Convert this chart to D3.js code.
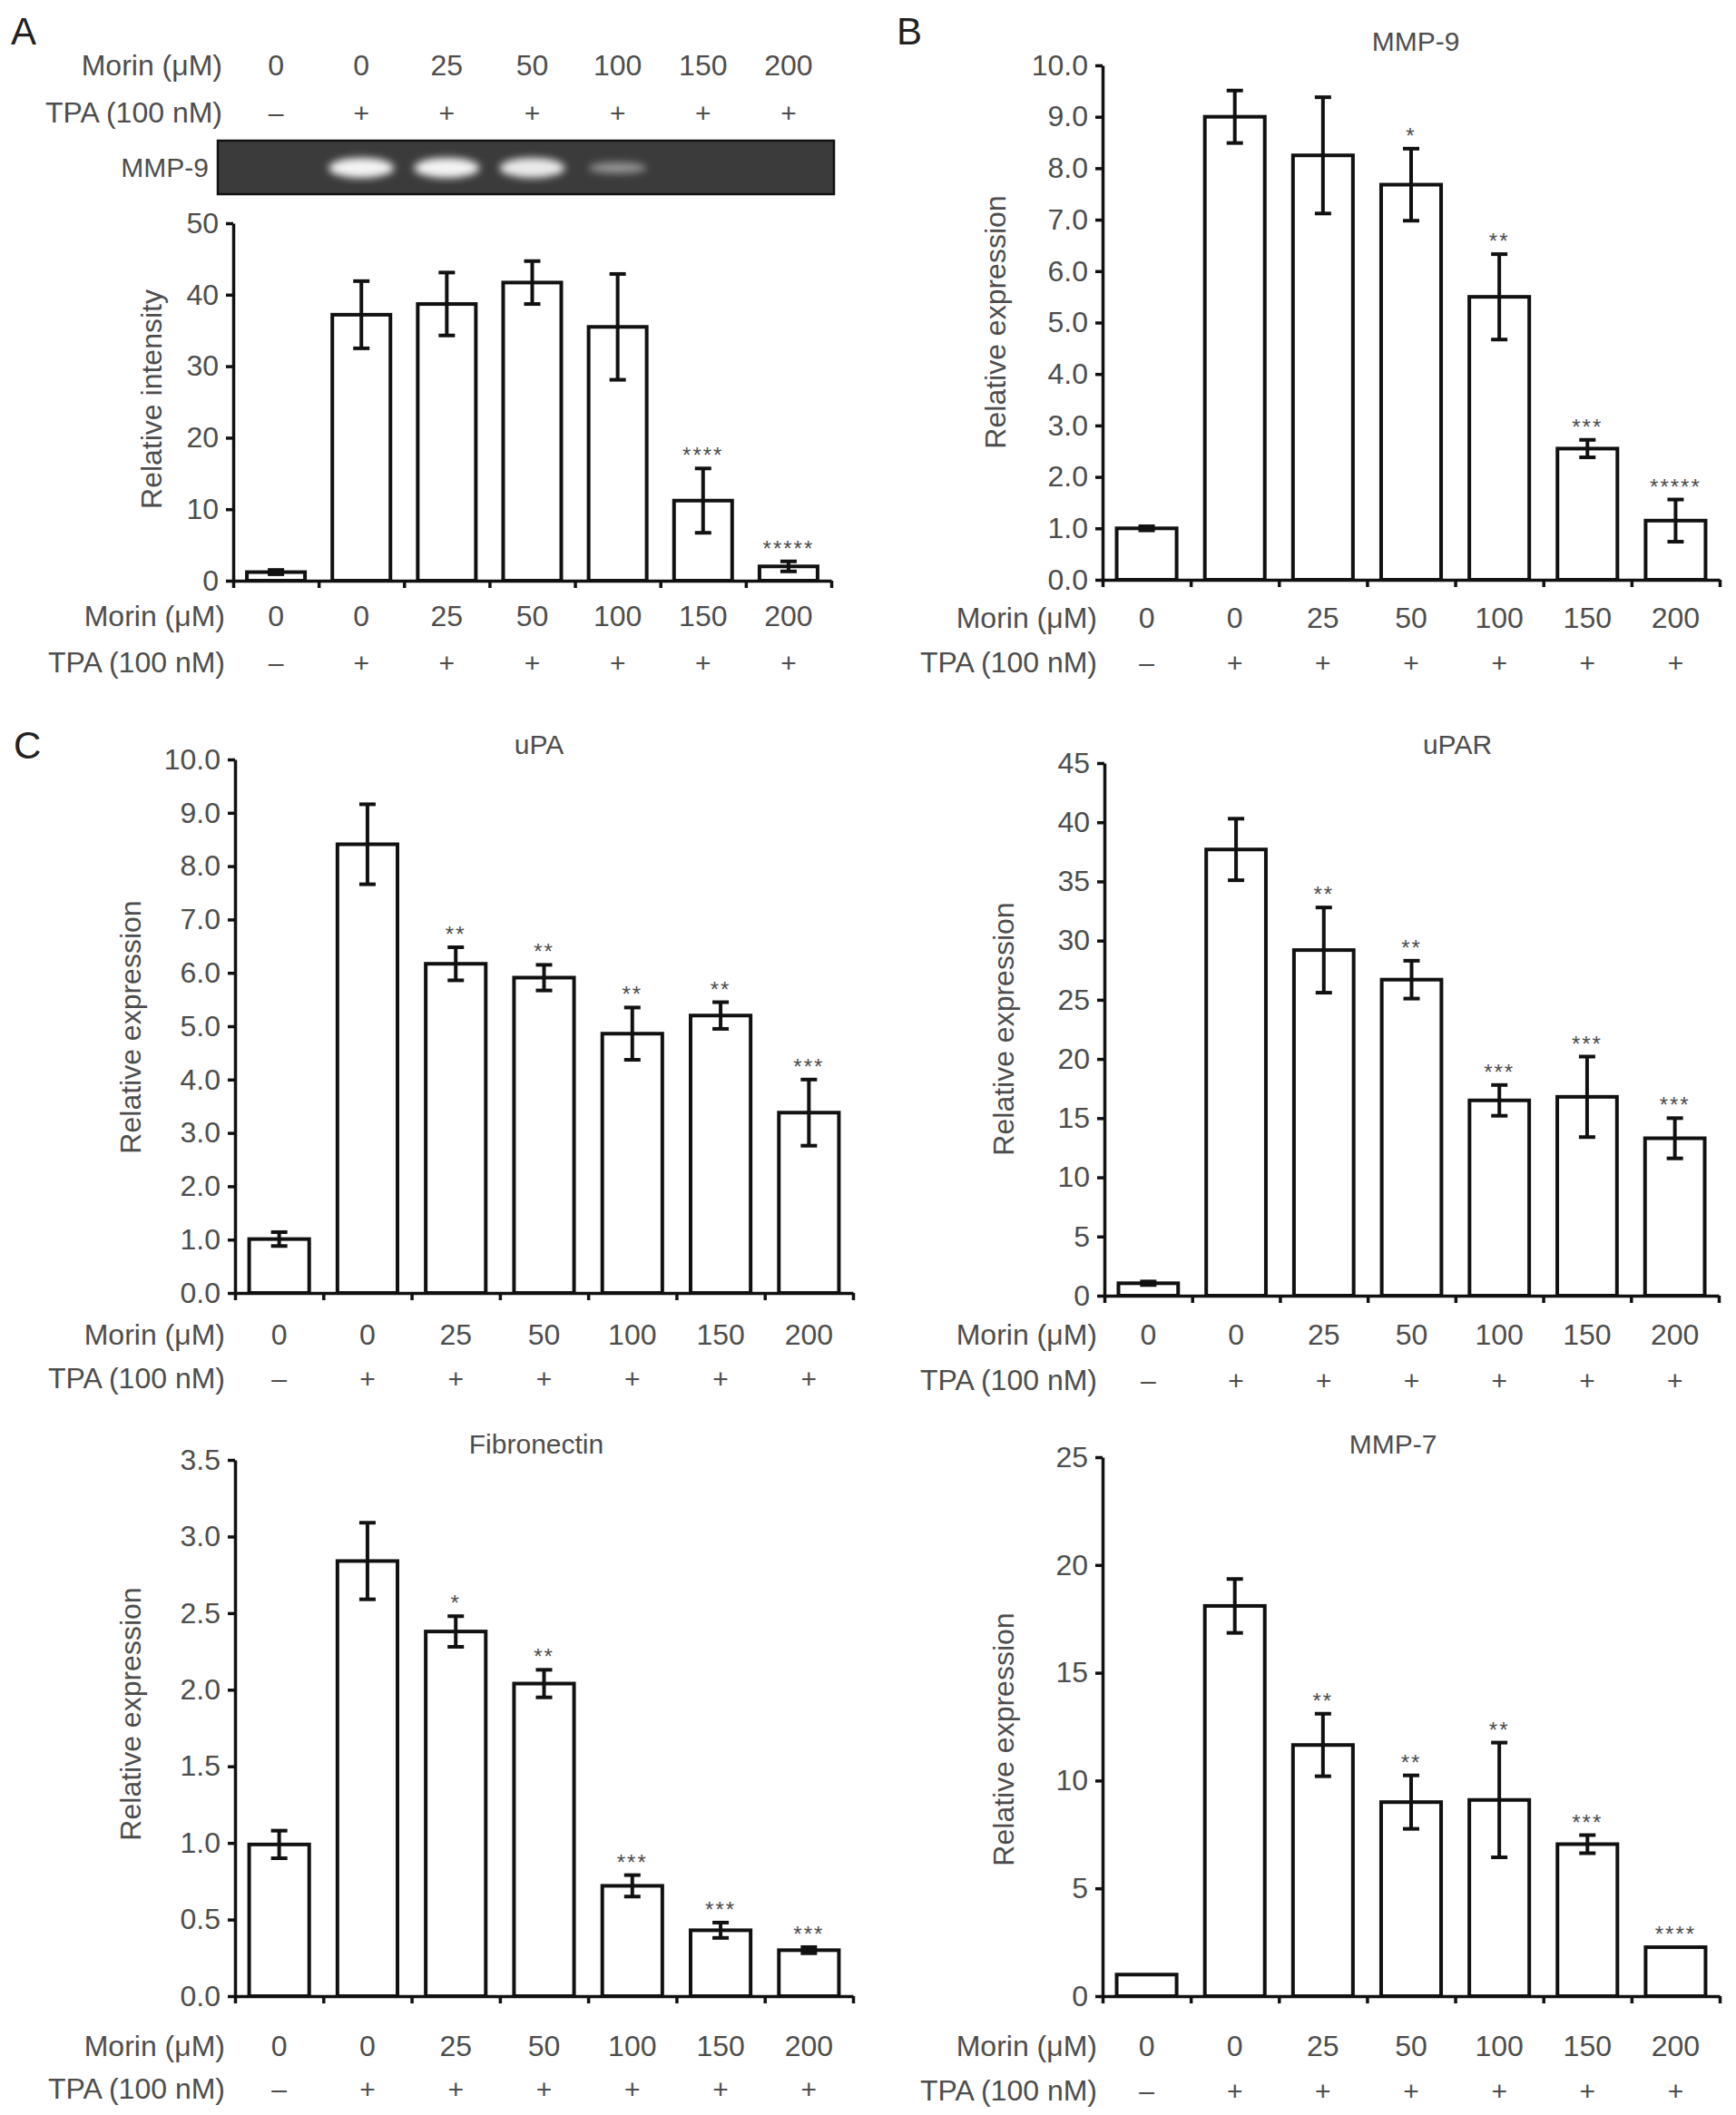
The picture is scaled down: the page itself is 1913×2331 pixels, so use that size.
<!DOCTYPE html>
<html>
<head>
<meta charset="utf-8">
<script src="https://cdn.jsdelivr.net/npm/d3@7"></script>
<style>
  body { margin: 0; background: #fff; }
  svg { display: block; font-family: "Liberation Sans", Arial, sans-serif; }
</style>
</head>
<body>
<div class="chart"></div>
<script>
// categories
var morinDoses = ["0", "0", "25", "50", "100", "150", "200"];
var tpaSigns = ["\u2013", "+", "+", "+", "+", "+", "+"];

// gel band strength per lane (panel A zymogram)
var gelBands = [0, 1, 1, 0.95, 0.5, 0, 0];

// A - MMP-9 relative intensity
var intensityMean = [1.2, 37.2, 38.7, 41.7, 35.5, 11.2, 2.0];
var intensityErr = [0.3, 4.7, 4.4, 3.0, 7.4, 4.5, 0.7];
var intensityStars = ["", "", "", "", "", "****", "*****"];

// B - MMP-9 relative expression
var mmp9Mean = [1.0, 9.0, 8.25, 7.68, 5.5, 2.55, 1.15];
var mmp9Err = [0.04, 0.51, 1.13, 0.7, 0.83, 0.17, 0.41];
var mmp9Stars = ["", "", "", "*", "**", "***", "*****"];

// C - uPA
var upaMean = [1.01, 8.41, 6.17, 5.91, 4.86, 5.2, 3.38];
var upaErr = [0.13, 0.75, 0.31, 0.24, 0.49, 0.25, 0.62];
var upaStars = ["", "", "**", "**", "**", "**", "***"];

// C - uPAR
var uparMean = [1.05, 37.7, 29.2, 26.7, 16.5, 16.8, 13.3];
var uparErr = [0.15, 2.6, 3.6, 1.6, 1.3, 3.4, 1.7];
var uparStars = ["", "", "**", "**", "***", "***", "***"];

// C - Fibronectin
var fibMean = [0.99, 2.84, 2.38, 2.04, 0.72, 0.43, 0.30];
var fibErr = [0.09, 0.25, 0.10, 0.09, 0.07, 0.05, 0.02];
var fibStars = ["", "", "*", "**", "***", "***", "***"];

// C - MMP-7
var mmp7Mean = [1.0, 18.1, 11.65, 9.0, 9.1, 7.05, 2.27];
var mmp7Err = [0, 1.25, 1.45, 1.24, 2.66, 0.42, 0];
var mmp7Stars = ["", "", "**", "**", "**", "***", "****"];

var textColor = "#4d4d4d";

var svg = d3.select(".chart")
    .append("svg")
    .attr("width", 1913)
    .attr("height", 2331);

var defs = svg.append("defs");
defs.append("filter")
    .attr("id", "blur")
    .attr("x", "-50%").attr("y", "-100%")
    .attr("width", "200%").attr("height", "300%")
    .append("feGaussianBlur")
    .attr("stdDeviation", 4);

// layout of each panel
var panels = [
    { mean: intensityMean, err: intensityErr, stars: intensityStars, title: "",
      x0: 257, x1: 916, yTop: 246, yBot: 640, max: 50, step: 10, fmt: d3.format("d"),
      ylabel: "Relative intensity", ylabelX: 167, ylabelY: 440, morinY: 679, tpaY: 730, labelRight: 248 },
    { mean: mmp9Mean, err: mmp9Err, stars: mmp9Stars, title: "MMP-9", titleX: 1560, titleY: 45,
      x0: 1215, x1: 1895, yTop: 72, yBot: 639, max: 10, step: 1, fmt: d3.format(".1f"),
      ylabel: "Relative expression", ylabelX: 1097, ylabelY: 355, morinY: 681, tpaY: 730, labelRight: 1209 },
    { mean: upaMean, err: upaErr, stars: upaStars, title: "uPA", titleX: 594, titleY: 820,
      x0: 259, x1: 940, yTop: 837, yBot: 1425, max: 10, step: 1, fmt: d3.format(".1f"),
      ylabel: "Relative expression", ylabelX: 144, ylabelY: 1132, morinY: 1471, tpaY: 1519, labelRight: 248 },
    { mean: uparMean, err: uparErr, stars: uparStars, title: "uPAR", titleX: 1606, titleY: 820,
      x0: 1217, x1: 1894, yTop: 841, yBot: 1428, max: 45, step: 5, fmt: d3.format("d"),
      ylabel: "Relative expression", ylabelX: 1106, ylabelY: 1134, morinY: 1471, tpaY: 1521, labelRight: 1209 },
    { mean: fibMean, err: fibErr, stars: fibStars, title: "Fibronectin", titleX: 591, titleY: 1591,
      x0: 259, x1: 940, yTop: 1609, yBot: 2200, max: 3.5, step: 0.5, fmt: d3.format(".1f"),
      ylabel: "Relative expression", ylabelX: 144, ylabelY: 1889, morinY: 2255, tpaY: 2302, labelRight: 248 },
    { mean: mmp7Mean, err: mmp7Err, stars: mmp7Stars, title: "MMP-7", titleX: 1535, titleY: 1591,
      x0: 1215, x1: 1895, yTop: 1606, yBot: 2200, max: 25, step: 5, fmt: d3.format("d"),
      ylabel: "Relative expression", ylabelX: 1106, ylabelY: 1917, morinY: 2255, tpaY: 2304, labelRight: 1209 }
];

// draw condition rows (Morin / TPA) in their own group
function drawConditions(parent, x, morinY, tpaY, labelRight) {
    var g = parent.append("g");
    g.append("text")
        .attr("x", labelRight).attr("y", morinY)
        .attr("text-anchor", "end").attr("dominant-baseline", "central")
        .attr("font-size", 32).attr("fill", textColor)
        .text("Morin (\u03bcM)");
    g.append("text")
        .attr("x", labelRight).attr("y", tpaY)
        .attr("text-anchor", "end").attr("dominant-baseline", "central")
        .attr("font-size", 32).attr("fill", textColor)
        .text("TPA (100 nM)");
    g.selectAll(".morin")
        .data(morinDoses)
        .join("text")
        .attr("class", "morin")
        .attr("x", function (d, i) { return x(i) + x.bandwidth() / 2 })
        .attr("y", morinY)
        .attr("text-anchor", "middle").attr("dominant-baseline", "central")
        .attr("font-size", 32).attr("fill", textColor)
        .text(function (d) { return d });
    g.selectAll(".tpa")
        .data(tpaSigns)
        .join("text")
        .attr("class", "tpa")
        .attr("x", function (d, i) { return x(i) + x.bandwidth() / 2 })
        .attr("y", tpaY)
        .attr("text-anchor", "middle").attr("dominant-baseline", "central")
        .attr("font-size", 30).attr("fill", textColor)
        .text(function (d) { return d });
}

function drawPanel(p, idx) {
    var g = svg.append("g");

    var x = d3.scaleBand()
        .domain(d3.range(morinDoses.length))
        .range([p.x0, p.x1])
        .paddingInner(0.32)
        .paddingOuter(0.16);

    var y = d3.scaleLinear()
        .domain([0, p.max])
        .range([p.yBot, p.yTop]);

    // y axis
    var yAxis = g.append("g")
        .attr("transform", "translate(" + p.x0 + ",0)")
        .call(d3.axisLeft(y)
            .tickValues(d3.range(0, p.max + p.step / 2, p.step))
            .tickFormat(p.fmt)
            .tickSize(8)
            .tickSizeOuter(0)
            .tickPadding(8));
    yAxis.selectAll("text")
        .attr("font-size", 32)
        .attr("fill", textColor)
        .attr("font-family", "Liberation Sans, Arial, sans-serif");

    // x axis with ticks at category boundaries
    var xb = d3.scaleLinear().domain([0, morinDoses.length]).range([p.x0, p.x1]);
    g.append("g")
        .attr("transform", "translate(0," + p.yBot + ")")
        .call(d3.axisBottom(xb)
            .tickValues(d3.range(0, morinDoses.length + 1))
            .tickFormat("")
            .tickSize(8)
            .tickSizeOuter(0));

    g.selectAll(".domain, .tick line")
        .attr("stroke", "#111")
        .attr("stroke-width", 3.5);

    // bars
    g.selectAll(".bar")
        .data(p.mean)
        .join("rect")
        .attr("class", "bar")
        .attr("x", function (d, i) { return x(i) })
        .attr("width", x.bandwidth())
        .attr("y", function (d) { return y(d) })
        .attr("height", function (d) { return y(0) - y(d) })
        .attr("fill", "#fff")
        .attr("stroke", "#111")
        .attr("stroke-width", 4);

    // error bars
    var cap = 9;
    p.mean.forEach(function (m, i) {
        var e = p.err[i];
        var cx = x(i) + x.bandwidth() / 2;
        if (e > 0) {
            var eg = g.append("g")
                .attr("stroke", "#111")
                .attr("stroke-width", 4);
            eg.append("line")
                .attr("x1", cx).attr("x2", cx)
                .attr("y1", y(m + e)).attr("y2", y(m - e));
            eg.append("line")
                .attr("x1", cx - cap).attr("x2", cx + cap)
                .attr("y1", y(m + e)).attr("y2", y(m + e));
            eg.append("line")
                .attr("x1", cx - cap).attr("x2", cx + cap)
                .attr("y1", y(m - e)).attr("y2", y(m - e));
        }
        if (p.stars[i]) {
            g.append("text")
                .attr("x", cx)
                .attr("y", y(m + e) - 6)
                .attr("text-anchor", "middle")
                .attr("font-size", 24)
                .attr("letter-spacing", 2)
                .attr("fill", textColor)
                .text(p.stars[i]);
        }
    });

    // y label
    g.append("text")
        .attr("transform", "translate(" + p.ylabelX + "," + p.ylabelY + ") rotate(-90)")
        .attr("text-anchor", "middle")
        .attr("dominant-baseline", "central")
        .attr("font-size", 32)
        .attr("fill", textColor)
        .text(p.ylabel);

    if (p.title) {
        g.append("text")
            .attr("x", p.titleX).attr("y", p.titleY)
            .attr("text-anchor", "middle")
            .attr("dominant-baseline", "central")
            .attr("font-size", 30)
            .attr("fill", textColor)
            .text(p.title);
    }

    drawConditions(g, x, p.morinY, p.tpaY, p.labelRight);

    // header + gel for panel A
    if (idx === 0) {
        drawConditions(g, x, 72, 124, 245);
        g.append("rect")
            .attr("x", 240).attr("y", 155)
            .attr("width", 679).attr("height", 59)
            .attr("fill", "#3b3b3b")
            .attr("stroke", "#111")
            .attr("stroke-width", 2.5);
        g.selectAll(".band")
            .data(gelBands)
            .join("ellipse")
            .attr("class", "band")
            .attr("cx", function (d, i) { return x(i) + x.bandwidth() / 2 })
            .attr("cy", 185)
            .attr("rx", function (d) { return d > 0.7 ? 36 : 32 })
            .attr("ry", function (d) { return d > 0.7 ? 11 : 6 })
            .attr("fill", "#f4f4f4")
            .attr("opacity", function (d) { return d })
            .attr("filter", "url(#blur)");
        g.append("text")
            .attr("x", 230).attr("y", 184)
            .attr("text-anchor", "end").attr("dominant-baseline", "central")
            .attr("font-size", 30).attr("fill", textColor)
            .text("MMP-9");
    }
}

panels.forEach(drawPanel);

// panel letters
var letters = [["A", 12, 49], ["B", 988, 49], ["C", 15, 836]];
svg.selectAll(".letter")
    .data(letters)
    .join("text")
    .attr("class", "letter")
    .attr("x", function (d) { return d[1] })
    .attr("y", function (d) { return d[2] })
    .attr("font-size", 42)
    .attr("fill", "#222")
    .text(function (d) { return d[0] });
</script>
</body>
</html>
